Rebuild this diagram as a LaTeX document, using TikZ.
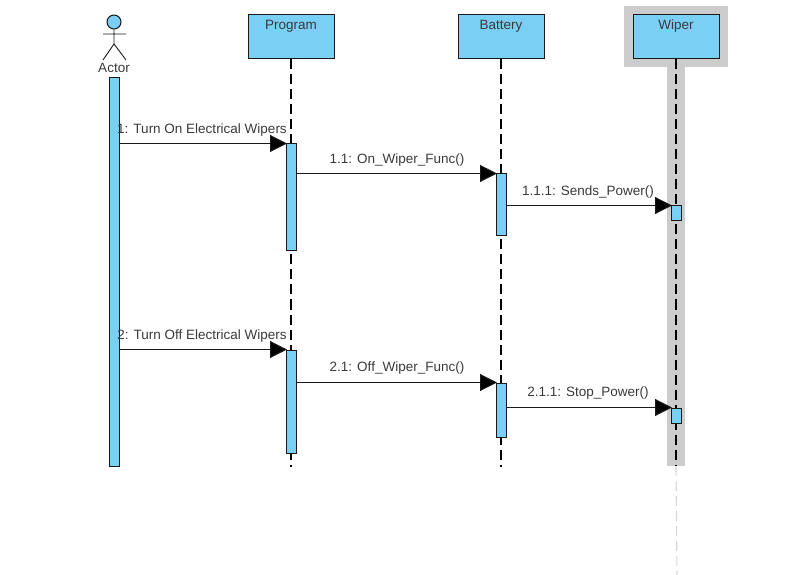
\documentclass[tikz,border=0pt]{standalone}
\usepackage{fontspec}
\setmainfont{Liberation Sans}
\usetikzlibrary{arrows.meta}
\definecolor{umlblue}{HTML}{7ACFF5}
\definecolor{umlgray}{HTML}{CCCCCC}
\definecolor{umltext}{HTML}{3A3A3A}
\tikzset{
	lifebox/.style={draw=black!90,fill=umlblue,line width=1pt,minimum width=86pt,minimum height=44pt,inner sep=0pt},
	lifename/.style={text=umltext,font=\fontsize{13.5}{15}\selectfont,inner sep=0pt,anchor=base},
	bar/.style={draw=black!90,fill=umlblue,line width=1pt,minimum width=10pt,inner sep=0pt},
	lifeline/.style={line width=1.1pt,dash pattern=on 10pt off 5pt},
	msg/.style={line width=1.1pt,draw=black!90,shorten >=-1pt,-{Triangle[length=17pt,width=17pt,fill=black]}},
	msglabel/.style={text=umltext,font=\fontsize{13.5}{15}\selectfont,inner sep=0pt,anchor=base}
}
\begin{document}
\begin{tikzpicture}[x=1pt,y=-1pt]
	\useasboundingbox (0,0) rectangle (807,575);
	% highlight of the wiper
	\fill[umlgray] (624,6) rectangle (728,67);
	\fill[umlgray] (667,67) rectangle (685,466);
	% lifeline heads
	\node[lifebox] (program) at (291,37) {};
	\node[lifebox] (battery) at (501,37) {};
	\node[lifebox] (wiper) at (676,37) {};
	\foreach \name/\label in {program/Program,battery/Battery,wiper/Wiper}
		\node[lifename] (\name name) at (\name.north |- 0,29.5) {\label};
	% lifelines
	\coordinate (programend) at (291,467);
	\coordinate (batteryend) at (501,467);
	\coordinate (wiperend) at (676,466);
	\coordinate (wiperfade) at (677,575);
	\foreach \name in {program,battery,wiper}
		\draw[lifeline] (\name.south) -- (\name end);
	\draw[lifeline,umlgray!80] (wiperend) -- (wiperfade);
	% actor
	\node[circle,draw=black!90,fill=umlblue,line width=1pt,minimum size=14pt,inner sep=0pt] (head) at (114,22) {};
	\coordinate (hip) at (114,44);
	\coordinate (armleft) at (103,34);
	\coordinate (armright) at (126,34);
	\coordinate (legleft) at (103,60);
	\coordinate (legright) at (126,60);
	\draw[line width=.9pt,black!90] (head.south) -- (hip) (armleft) -- (armright) (legleft) -- (hip) -- (legright);
	\node[lifename] (actor) at (114,72.5) {Actor};
	% activations
	\node[bar,minimum height=388pt] (actorbar) at (114,272) {};
	\foreach \name/\x/\y/\h in {progone/291.5/197.5/107,progtwo/291.5/401.5/103,
		batone/501.5/205/62,battwo/501.5/410/54,
		wipone/676.5/213.5/15,wiptwo/676.5/415.5/15}
		\node[bar,minimum height=\h pt] (\name) at (\x,\y) {};
	% messages
	\draw[msg] (actorbar.east |- progone.north) -- (progone.north west);
	\draw[msg] (progone.east |- batone.north) -- (batone.north west);
	\draw[msg] (batone.east |- wipone.north) -- (wipone.north west);
	\draw[msg] (actorbar.east |- progtwo.north) -- (progtwo.north west);
	\draw[msg] (progtwo.east |- battwo.north) -- (battwo.north west);
	\draw[msg] (battwo.east |- wiptwo.north) -- (wiptwo.north west);
	% labels
	\node[msglabel] (labelone) at (202,133.5) {1: Turn On Electrical Wipers};
	\node[msglabel] (labeloneone) at (397,163.5) {1.1: On\_Wiper\_Func()};
	\node[msglabel] (labeloneoneone) at (588,195.5) {1.1.1: Sends\_Power()};
	\node[msglabel] (labeltwo) at (202,339.5) {2: Turn Off Electrical Wipers};
	\node[msglabel] (labeltwoone) at (397,371.5) {2.1: Off\_Wiper\_Func()};
	\node[msglabel] (labeltwooneone) at (588,396.5) {2.1.1: Stop\_Power()};
\end{tikzpicture}
\end{document}
